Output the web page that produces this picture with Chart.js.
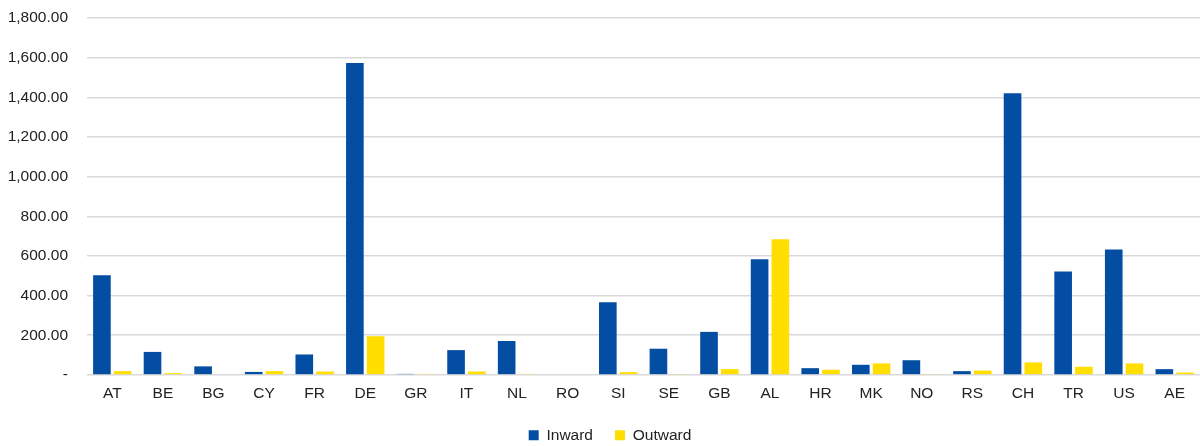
<!DOCTYPE html>
<html>
<head>
<meta charset="utf-8">
<script src="https://cdn.jsdelivr.net/npm/chart.js@4"></script>
<style>
    html, body { margin: 0; padding: 0; background: #fff; }
    #wrap { width: 1200px; height: 446px; }
</style>
</head>
<body>
<div id="wrap"><canvas id="flowChart"></canvas></div>
<script>
// ============================================
// DATA
// ============================================
const countries = ['AT', 'BE', 'BG', 'CY', 'FR', 'DE', 'GR', 'IT', 'NL', 'RO', 'SI',
    'SE', 'GB', 'AL', 'HR', 'MK', 'NO', 'RS', 'CH', 'TR', 'US', 'AE'];
const inward = [502, 116, 43, 15, 103, 1573, 5, 125, 171, 0, 366,
    132, 217, 583, 34, 51, 74, 19, 1421, 522, 633, 29];
const outward = [19, 9, 0, 19, 17, 195, 5, 17, 5, 0, 14,
    3, 29, 684, 26, 58, 3, 22, 63, 41, 58, 12];
const yTicks = [0, 200, 400, 600, 800, 1000, 1200, 1400, 1600, 1800];

// ============================================
// CHART
// ============================================
Chart.defaults.font.family = "'Liberation Sans', Arial, sans-serif";
Chart.defaults.font.size = 15.5;
Chart.defaults.color = '#222';

// legend sits tighter to the plot and a bit right of centre
const tightLegend = {
    id: 'tightLegend',
    beforeInit(chart) {
        const legend = chart.legend;
        const fit = legend.fit;
        legend.fit = function () {
            fit.call(this);
            this.height -= 15;
        };
        legend.draw = function () {
            const ctx = this.ctx;
            ctx.save();
            ctx.translate(10, -8);
            this._draw();
            ctx.restore();
        };
    }
};

new Chart(document.getElementById('flowChart'), {
    type: 'bar',
    data: {
        labels: countries,
        datasets: [
            {
                label: 'Inward',
                data: inward,
                backgroundColor: '#034ea2',
                categoryPercentage: 0.82,
                barPercentage: 0.85
            },
            {
                label: 'Outward',
                data: outward,
                backgroundColor: '#ffde00',
                categoryPercentage: 0.82,
                barPercentage: 0.85
            }
        ]
    },
    plugins: [tightLegend],
    options: {
        responsive: true,
        maintainAspectRatio: false,
        animation: false,
        layout: { padding: { top: 18, right: 0, left: 0, bottom: 0 } },
        plugins: {
            legend: {
                position: 'bottom',
                labels: {
                    boxWidth: 10,
                    boxHeight: 10,
                    padding: 22,
                    color: '#222'
                }
            },
            tooltip: { enabled: false }
        },
        scales: {
            x: {
                grid: { display: false, drawTicks: false },
                border: { display: false },
                ticks: { padding: 10, color: '#222' }
            },
            y: {
                min: 0,
                max: 1800,
                afterBuildTicks: (scale) => {
                    scale.ticks = yTicks.map(v => ({ value: v }));
                },
                afterFit: (scale) => {
                    scale.width = 87;
                    scale.paddingTop = 0;
                    scale.paddingBottom = 0;
                },
                grid: { color: '#d9d9d9', lineWidth: 1.5, drawTicks: false },
                border: { display: false },
                ticks: {
                    padding: 19,
                    color: '#222',
                    callback: function (value) {
                        if (value === 0) return '-';
                        return value.toLocaleString('en-US', { minimumFractionDigits: 2, maximumFractionDigits: 2 });
                    }
                }
            }
        }
    }
});
</script>
</body>
</html>
